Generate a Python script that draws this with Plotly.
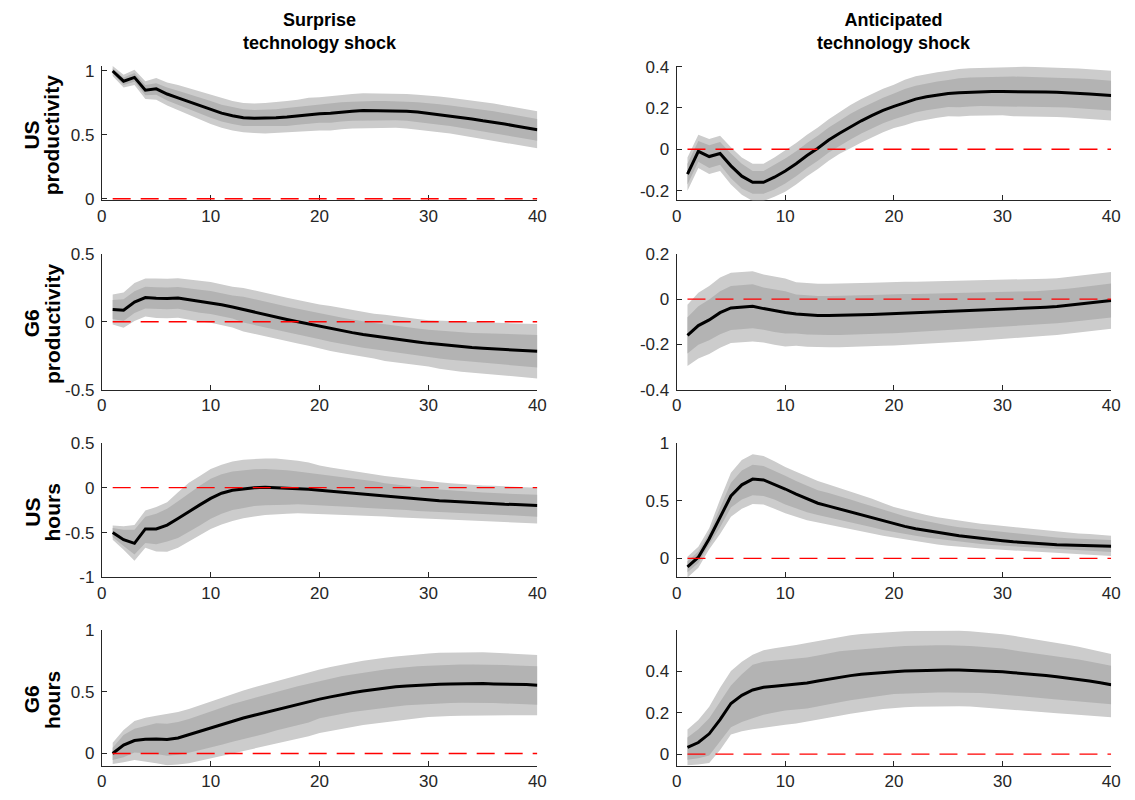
import plotly.graph_objects as go
from plotly.subplots import make_subplots

horizons = list(range(1, 41))
x_ticks = [0, 10, 20, 30, 40]
x_ticklabels = ["0", "10", "20", "30", "40"]

col_titles = ["<b>Surprise<br>technology shock</b>", "<b>Anticipated<br>technology shock</b>"]
row_titles_1 = ["<b>US</b>", "<b>G6</b>", "<b>US</b>", "<b>G6</b>"]
row_titles_2 = ["<b>productivity</b>", "<b>productivity</b>", "<b>hours</b>", "<b>hours</b>"]

# ---------- Panel 1: US productivity, surprise ----------
us_prod_sur_med = [1.00,0.92,0.95,0.85,0.86,0.82,0.79,0.76,0.73,0.70,0.67,0.65,0.635,0.63,0.63,0.635,0.64,0.65,0.66,0.665,0.67,0.68,0.685,0.69,0.69,0.69,0.69,0.685,0.68,0.67,0.66,0.65,0.64,0.625,0.61,0.60,0.585,0.57,0.555,0.54]
us_prod_sur_lo90 = [0.96,0.87,0.89,0.78,0.775,0.73,0.69,0.655,0.62,0.585,0.555,0.535,0.52,0.515,0.51,0.515,0.515,0.525,0.53,0.535,0.535,0.545,0.55,0.555,0.555,0.555,0.555,0.55,0.545,0.53,0.52,0.51,0.50,0.485,0.465,0.455,0.44,0.425,0.41,0.395]
us_prod_sur_lo68 = [0.98,0.89,0.915,0.81,0.815,0.77,0.735,0.70,0.67,0.635,0.605,0.585,0.57,0.565,0.565,0.57,0.57,0.58,0.59,0.595,0.595,0.605,0.61,0.615,0.615,0.615,0.615,0.61,0.605,0.59,0.58,0.57,0.56,0.545,0.525,0.515,0.50,0.485,0.47,0.455]
us_prod_sur_hi68 = [1.02,0.95,0.985,0.89,0.905,0.87,0.845,0.82,0.79,0.765,0.735,0.715,0.70,0.695,0.695,0.70,0.71,0.72,0.73,0.735,0.745,0.755,0.76,0.765,0.765,0.765,0.765,0.76,0.755,0.75,0.74,0.73,0.72,0.705,0.695,0.685,0.67,0.655,0.64,0.625]
us_prod_sur_hi90 = [1.04,0.97,1.01,0.92,0.945,0.91,0.89,0.865,0.84,0.815,0.785,0.765,0.75,0.745,0.75,0.755,0.765,0.775,0.79,0.795,0.805,0.815,0.82,0.825,0.825,0.825,0.825,0.82,0.815,0.81,0.80,0.79,0.78,0.765,0.755,0.745,0.73,0.715,0.70,0.685]

# ---------- Panel 2: US productivity, anticipated ----------
us_prod_ant_med = [-0.12,-0.01,-0.035,-0.02,-0.08,-0.13,-0.16,-0.16,-0.135,-0.105,-0.07,-0.03,0.005,0.045,0.078,0.11,0.138,0.164,0.188,0.208,0.227,0.243,0.254,0.263,0.27,0.274,0.277,0.279,0.28,0.28,0.28,0.279,0.278,0.277,0.276,0.274,0.271,0.268,0.264,0.26]
us_prod_ant_lo90 = [-0.20,-0.09,-0.12,-0.105,-0.17,-0.22,-0.25,-0.25,-0.23,-0.205,-0.17,-0.13,-0.095,-0.055,-0.022,0.005,0.033,0.059,0.083,0.103,0.117,0.133,0.144,0.153,0.16,0.159,0.162,0.164,0.165,0.165,0.16,0.159,0.158,0.157,0.156,0.154,0.151,0.148,0.144,0.14]
us_prod_ant_lo68 = [-0.17,-0.06,-0.09,-0.075,-0.14,-0.19,-0.215,-0.215,-0.195,-0.165,-0.13,-0.09,-0.055,-0.015,0.018,0.048,0.076,0.102,0.126,0.146,0.162,0.178,0.189,0.198,0.205,0.204,0.207,0.209,0.21,0.21,0.208,0.207,0.206,0.205,0.204,0.202,0.199,0.196,0.192,0.188]
us_prod_ant_hi68 = [-0.07,0.04,0.02,0.035,-0.02,-0.07,-0.105,-0.105,-0.075,-0.045,-0.01,0.03,0.065,0.105,0.138,0.172,0.20,0.226,0.25,0.27,0.292,0.308,0.319,0.328,0.335,0.344,0.347,0.349,0.35,0.35,0.352,0.351,0.35,0.349,0.348,0.346,0.343,0.34,0.336,0.332]
us_prod_ant_hi90 = [-0.04,0.07,0.05,0.065,0.01,-0.04,-0.07,-0.07,-0.04,-0.005,0.03,0.07,0.105,0.145,0.178,0.215,0.243,0.269,0.293,0.313,0.337,0.353,0.364,0.373,0.38,0.389,0.392,0.394,0.395,0.395,0.40,0.399,0.398,0.397,0.396,0.394,0.391,0.388,0.384,0.38]

# ---------- Panel 3: G6 productivity, surprise ----------
g6_prod_sur_med = [0.09,0.085,0.145,0.178,0.173,0.171,0.175,0.163,0.151,0.142,0.125,0.108,0.089,0.07,0.05,0.034,0.017,0.0,-0.017,-0.034,-0.05,-0.065,-0.08,-0.094,-0.106,-0.118,-0.13,-0.14,-0.149,-0.159,-0.168,-0.175,-0.183,-0.19,-0.195,-0.2,-0.204,-0.209,-0.212,-0.217]
g6_prod_sur_lo90 = [-0.02,-0.045,0.005,0.038,0.028,0.026,0.03,0.018,0.001,-0.008,-0.025,-0.042,-0.071,-0.09,-0.11,-0.126,-0.143,-0.16,-0.177,-0.194,-0.215,-0.23,-0.245,-0.259,-0.271,-0.288,-0.30,-0.31,-0.319,-0.329,-0.346,-0.356,-0.367,-0.377,-0.385,-0.392,-0.398,-0.405,-0.41,-0.417]
g6_prod_sur_lo68 = [0.02,0.005,0.065,0.098,0.093,0.091,0.095,0.083,0.066,0.057,0.04,0.023,-0.006,-0.025,-0.045,-0.061,-0.078,-0.095,-0.112,-0.129,-0.147,-0.162,-0.177,-0.191,-0.203,-0.218,-0.23,-0.24,-0.249,-0.259,-0.27,-0.279,-0.289,-0.298,-0.305,-0.312,-0.318,-0.325,-0.33,-0.337]
g6_prod_sur_hi68 = [0.16,0.165,0.225,0.258,0.253,0.251,0.255,0.243,0.236,0.227,0.21,0.193,0.184,0.165,0.145,0.129,0.112,0.095,0.078,0.061,0.047,0.032,0.017,0.003,-0.009,-0.018,-0.03,-0.04,-0.049,-0.059,-0.066,-0.071,-0.077,-0.082,-0.085,-0.088,-0.09,-0.093,-0.094,-0.097]
g6_prod_sur_hi90 = [0.20,0.215,0.285,0.318,0.318,0.316,0.32,0.308,0.301,0.292,0.275,0.258,0.249,0.23,0.21,0.194,0.177,0.16,0.143,0.126,0.115,0.10,0.085,0.071,0.059,0.052,0.04,0.03,0.021,0.011,0.01,0.006,0.001,-0.003,-0.005,-0.008,-0.01,-0.013,-0.014,-0.017]

# ---------- Panel 4: G6 productivity, anticipated ----------
g6_prod_ant_med = [-0.16,-0.117,-0.092,-0.06,-0.039,-0.035,-0.032,-0.042,-0.052,-0.059,-0.066,-0.07,-0.072,-0.072,-0.072,-0.07,-0.069,-0.068,-0.066,-0.065,-0.063,-0.062,-0.06,-0.058,-0.057,-0.055,-0.053,-0.051,-0.049,-0.047,-0.045,-0.042,-0.039,-0.036,-0.033,-0.028,-0.023,-0.018,-0.012,-0.006]
g6_prod_ant_lo90 = [-0.295,-0.262,-0.242,-0.215,-0.194,-0.19,-0.187,-0.192,-0.202,-0.209,-0.206,-0.21,-0.212,-0.212,-0.212,-0.21,-0.209,-0.208,-0.206,-0.205,-0.202,-0.2,-0.197,-0.194,-0.192,-0.189,-0.186,-0.183,-0.18,-0.177,-0.174,-0.17,-0.166,-0.162,-0.158,-0.153,-0.148,-0.143,-0.137,-0.131]
g6_prod_ant_lo68 = [-0.24,-0.202,-0.182,-0.155,-0.136,-0.132,-0.129,-0.135,-0.145,-0.152,-0.152,-0.156,-0.158,-0.158,-0.158,-0.156,-0.155,-0.154,-0.152,-0.151,-0.148,-0.146,-0.143,-0.14,-0.138,-0.135,-0.132,-0.129,-0.126,-0.124,-0.121,-0.117,-0.113,-0.11,-0.107,-0.102,-0.098,-0.093,-0.087,-0.081]
g6_prod_ant_hi68 = [-0.08,-0.032,-0.002,0.035,0.058,0.062,0.065,0.051,0.041,0.034,0.02,0.016,0.014,0.014,0.014,0.016,0.017,0.018,0.02,0.021,0.022,0.022,0.023,0.024,0.025,0.026,0.027,0.028,0.029,0.03,0.031,0.033,0.035,0.038,0.041,0.046,0.051,0.056,0.062,0.069]
g6_prod_ant_hi90 = [-0.025,0.028,0.058,0.095,0.116,0.12,0.123,0.108,0.098,0.091,0.074,0.07,0.068,0.068,0.068,0.07,0.071,0.072,0.074,0.075,0.076,0.076,0.077,0.078,0.078,0.079,0.08,0.081,0.082,0.083,0.084,0.086,0.088,0.09,0.092,0.097,0.102,0.107,0.113,0.119]

# ---------- Panel 5: US hours, surprise ----------
us_hours_sur_med = [-0.50,-0.58,-0.62,-0.46,-0.46,-0.417,-0.344,-0.264,-0.192,-0.12,-0.062,-0.029,-0.011,0.0,0.004,0.0,-0.004,-0.011,-0.018,-0.029,-0.04,-0.05,-0.062,-0.072,-0.083,-0.094,-0.105,-0.116,-0.127,-0.134,-0.145,-0.152,-0.16,-0.167,-0.174,-0.18,-0.185,-0.188,-0.192,-0.20]
us_hours_sur_lo90 = [-0.58,-0.69,-0.815,-0.67,-0.71,-0.714,-0.67,-0.60,-0.53,-0.46,-0.41,-0.37,-0.34,-0.32,-0.305,-0.295,-0.29,-0.285,-0.285,-0.29,-0.295,-0.30,-0.305,-0.31,-0.315,-0.32,-0.33,-0.335,-0.343,-0.35,-0.355,-0.36,-0.365,-0.37,-0.375,-0.38,-0.385,-0.39,-0.395,-0.40]
us_hours_sur_lo68 = [-0.55,-0.65,-0.745,-0.615,-0.63,-0.60,-0.56,-0.49,-0.42,-0.345,-0.29,-0.25,-0.225,-0.205,-0.195,-0.19,-0.19,-0.185,-0.19,-0.20,-0.205,-0.21,-0.215,-0.225,-0.23,-0.235,-0.245,-0.25,-0.26,-0.27,-0.275,-0.28,-0.285,-0.29,-0.295,-0.30,-0.305,-0.31,-0.315,-0.325]
us_hours_sur_hi68 = [-0.45,-0.47,-0.47,-0.325,-0.29,-0.236,-0.15,-0.06,0.02,0.10,0.15,0.18,0.195,0.205,0.207,0.205,0.195,0.18,0.165,0.145,0.13,0.115,0.10,0.085,0.07,0.05,0.035,0.02,0.005,-0.01,-0.02,-0.03,-0.04,-0.046,-0.053,-0.06,-0.065,-0.07,-0.075,-0.08]
us_hours_sur_hi90 = [-0.42,-0.43,-0.415,-0.255,-0.215,-0.163,-0.05,0.054,0.13,0.207,0.255,0.29,0.31,0.32,0.326,0.325,0.315,0.30,0.28,0.246,0.225,0.205,0.185,0.165,0.15,0.13,0.115,0.10,0.085,0.072,0.06,0.05,0.04,0.032,0.025,0.02,0.015,0.01,0.005,0.0]

# ---------- Panel 6: US hours, anticipated ----------
us_hours_ant_med = [-0.073,0.01,0.17,0.36,0.54,0.636,0.686,0.678,0.641,0.60,0.556,0.514,0.477,0.452,0.427,0.401,0.376,0.347,0.322,0.297,0.277,0.257,0.24,0.223,0.209,0.195,0.184,0.172,0.161,0.153,0.144,0.136,0.13,0.124,0.119,0.116,0.113,0.11,0.107,0.105]
us_hours_ant_lo90 = [-0.165,-0.08,0.08,0.21,0.36,0.43,0.47,0.465,0.43,0.39,0.36,0.33,0.31,0.29,0.275,0.255,0.235,0.215,0.195,0.175,0.16,0.145,0.135,0.12,0.11,0.10,0.095,0.085,0.08,0.075,0.065,0.06,0.055,0.05,0.045,0.04,0.035,0.03,0.025,0.02]
us_hours_ant_lo68 = [-0.12,-0.04,0.12,0.27,0.44,0.51,0.545,0.54,0.51,0.465,0.43,0.40,0.375,0.355,0.335,0.315,0.29,0.27,0.245,0.225,0.21,0.195,0.18,0.165,0.155,0.145,0.135,0.125,0.115,0.11,0.10,0.095,0.09,0.085,0.08,0.075,0.07,0.065,0.06,0.055]
us_hours_ant_hi68 = [-0.025,0.06,0.22,0.44,0.655,0.76,0.81,0.80,0.76,0.715,0.67,0.63,0.59,0.565,0.54,0.51,0.48,0.45,0.42,0.39,0.365,0.34,0.32,0.30,0.285,0.27,0.26,0.245,0.235,0.225,0.215,0.205,0.195,0.19,0.18,0.175,0.17,0.165,0.16,0.16]
us_hours_ant_hi90 = [0.015,0.10,0.26,0.51,0.74,0.85,0.90,0.885,0.84,0.79,0.75,0.71,0.67,0.64,0.61,0.58,0.55,0.515,0.48,0.445,0.42,0.395,0.375,0.355,0.34,0.325,0.31,0.30,0.29,0.28,0.27,0.26,0.25,0.24,0.23,0.225,0.215,0.21,0.20,0.195]

# ---------- Panel 7: G6 hours, surprise ----------
g6_hours_sur_med = [0.0,0.068,0.105,0.116,0.118,0.113,0.126,0.153,0.179,0.208,0.237,0.263,0.287,0.31,0.332,0.355,0.376,0.397,0.418,0.44,0.458,0.476,0.492,0.505,0.518,0.529,0.539,0.547,0.553,0.558,0.561,0.563,0.566,0.566,0.566,0.563,0.563,0.561,0.558,0.553]
g6_hours_sur_lo90 = [-0.085,-0.07,-0.053,-0.065,-0.08,-0.095,-0.09,-0.08,-0.065,-0.045,-0.025,-0.005,0.015,0.035,0.06,0.08,0.10,0.12,0.14,0.165,0.18,0.20,0.215,0.23,0.245,0.255,0.265,0.275,0.285,0.295,0.30,0.303,0.306,0.308,0.31,0.31,0.31,0.31,0.31,0.31]
g6_hours_sur_lo68 = [-0.053,-0.03,0.008,0.0,-0.005,-0.018,-0.01,0.005,0.025,0.047,0.07,0.095,0.12,0.14,0.16,0.185,0.205,0.23,0.25,0.285,0.30,0.32,0.335,0.35,0.36,0.37,0.38,0.39,0.395,0.40,0.405,0.408,0.41,0.41,0.41,0.408,0.405,0.403,0.40,0.395]
g6_hours_sur_hi68 = [0.047,0.15,0.20,0.225,0.245,0.24,0.255,0.28,0.31,0.342,0.37,0.40,0.425,0.45,0.475,0.50,0.52,0.545,0.565,0.587,0.605,0.625,0.64,0.655,0.67,0.68,0.69,0.70,0.705,0.71,0.715,0.717,0.72,0.72,0.72,0.717,0.715,0.712,0.708,0.705]
g6_hours_sur_hi90 = [0.087,0.19,0.263,0.29,0.305,0.318,0.335,0.36,0.39,0.42,0.455,0.485,0.51,0.535,0.56,0.585,0.61,0.635,0.655,0.68,0.70,0.72,0.735,0.75,0.765,0.775,0.785,0.795,0.80,0.81,0.815,0.817,0.82,0.82,0.82,0.815,0.81,0.806,0.80,0.797]

# ---------- Panel 8: G6 hours, anticipated ----------
g6_hours_ant_med = [0.033,0.056,0.098,0.166,0.244,0.283,0.309,0.322,0.327,0.331,0.336,0.342,0.352,0.361,0.37,0.378,0.384,0.389,0.394,0.397,0.40,0.402,0.403,0.405,0.405,0.405,0.403,0.402,0.40,0.397,0.392,0.388,0.383,0.378,0.372,0.366,0.359,0.352,0.344,0.334]
g6_hours_ant_lo90 = [-0.053,-0.05,-0.042,0.02,0.095,0.11,0.12,0.13,0.135,0.142,0.147,0.155,0.165,0.175,0.185,0.195,0.203,0.21,0.217,0.223,0.226,0.228,0.229,0.23,0.23,0.23,0.229,0.227,0.224,0.22,0.215,0.21,0.206,0.201,0.197,0.193,0.189,0.185,0.181,0.178]
g6_hours_ant_lo68 = [-0.027,-0.02,-0.006,0.06,0.13,0.155,0.173,0.19,0.20,0.21,0.215,0.22,0.23,0.24,0.25,0.26,0.268,0.275,0.282,0.29,0.293,0.295,0.296,0.297,0.297,0.297,0.296,0.294,0.291,0.287,0.282,0.277,0.273,0.268,0.263,0.258,0.253,0.249,0.244,0.24]
g6_hours_ant_hi68 = [0.08,0.12,0.173,0.25,0.33,0.385,0.43,0.445,0.45,0.455,0.46,0.465,0.475,0.485,0.495,0.50,0.505,0.51,0.514,0.517,0.52,0.522,0.523,0.524,0.524,0.523,0.52,0.517,0.513,0.508,0.50,0.493,0.486,0.479,0.472,0.464,0.455,0.446,0.436,0.425]
g6_hours_ant_hi90 = [0.119,0.165,0.228,0.32,0.40,0.445,0.478,0.50,0.51,0.517,0.525,0.535,0.545,0.555,0.565,0.572,0.578,0.582,0.585,0.588,0.591,0.593,0.594,0.595,0.595,0.594,0.592,0.588,0.583,0.577,0.57,0.562,0.554,0.545,0.536,0.527,0.517,0.506,0.495,0.482]

# y-axis ranges and ticks per panel (row, col)
y_ranges = {
    (1, 1): [-0.012, 1.042], (1, 2): [-0.247, 0.405],
    (2, 1): [-0.5, 0.5], (2, 2): [-0.4, 0.2],
    (3, 1): [-1, 0.5], (3, 2): [-0.165, 1.0],
    (4, 1): [-0.098, 1.0], (4, 2): [-0.055, 0.598],
}
y_tickvals = {
    (1, 1): [0, 0.5, 1], (1, 2): [-0.2, 0, 0.2, 0.4],
    (2, 1): [-0.5, 0, 0.5], (2, 2): [-0.4, -0.2, 0, 0.2],
    (3, 1): [-1, -0.5, 0, 0.5], (3, 2): [0, 0.5, 1],
    (4, 1): [0, 0.5, 1], (4, 2): [0, 0.2, 0.4],
}
y_ticktext = {
    (1, 1): ["0", "0.5", "1"], (1, 2): ["-0.2", "0", "0.2", "0.4"],
    (2, 1): ["-0.5", "0", "0.5"], (2, 2): ["-0.4", "-0.2", "0", "0.2"],
    (3, 1): ["-1", "-0.5", "0", "0.5"], (3, 2): ["0", "0.5", "1"],
    (4, 1): ["0", "0.5", "1"], (4, 2): ["0", "0.2", "0.4"],
}

panels = {
    (1, 1): (us_prod_sur_med, us_prod_sur_lo90, us_prod_sur_lo68, us_prod_sur_hi68, us_prod_sur_hi90),
    (1, 2): (us_prod_ant_med, us_prod_ant_lo90, us_prod_ant_lo68, us_prod_ant_hi68, us_prod_ant_hi90),
    (2, 1): (g6_prod_sur_med, g6_prod_sur_lo90, g6_prod_sur_lo68, g6_prod_sur_hi68, g6_prod_sur_hi90),
    (2, 2): (g6_prod_ant_med, g6_prod_ant_lo90, g6_prod_ant_lo68, g6_prod_ant_hi68, g6_prod_ant_hi90),
    (3, 1): (us_hours_sur_med, us_hours_sur_lo90, us_hours_sur_lo68, us_hours_sur_hi68, us_hours_sur_hi90),
    (3, 2): (us_hours_ant_med, us_hours_ant_lo90, us_hours_ant_lo68, us_hours_ant_hi68, us_hours_ant_hi90),
    (4, 1): (g6_hours_sur_med, g6_hours_sur_lo90, g6_hours_sur_lo68, g6_hours_sur_hi68, g6_hours_sur_hi90),
    (4, 2): (g6_hours_ant_med, g6_hours_ant_lo90, g6_hours_ant_lo68, g6_hours_ant_hi68, g6_hours_ant_hi90),
}
zero_line = [0.0] * len(horizons)

W, H = 1135, 800
col_px = {1: (98, 539), 2: (680, 1120)}
row_px = {1: (58, 196), 2: (250.7, 390), 3: (444.3, 582.3), 4: (636, 775)}

LIGHT = "#cccccc"
DARK = "#b3b3b3"
AXC = "#262626"
FONT = "Liberation Sans, Arial, Helvetica, sans-serif"

fig = make_subplots(rows=4, cols=2)

for (r, c), (med, lo90, lo68, hi68, hi90) in panels.items():
    for arr in (med, lo90, lo68, hi68, hi90):
        assert len(arr) == 40, (r, c, len(arr))
    xs = horizons + horizons[::-1]
    fig.add_trace(go.Scatter(x=xs, y=list(hi90) + list(lo90)[::-1], fill="toself",
                             fillcolor=LIGHT, line=dict(width=0), mode="lines",
                             hoverinfo="skip", showlegend=False), row=r, col=c)
    fig.add_trace(go.Scatter(x=xs, y=list(hi68) + list(lo68)[::-1], fill="toself",
                             fillcolor=DARK, line=dict(width=0), mode="lines",
                             hoverinfo="skip", showlegend=False), row=r, col=c)
    fig.add_trace(go.Scatter(x=horizons, y=med, mode="lines",
                             line=dict(color="black", width=3),
                             showlegend=False), row=r, col=c)
    fig.add_trace(go.Scatter(x=horizons, y=zero_line, mode="lines",
                             line=dict(color="#ff0000", width=1.4, dash="18px,10px"),
                             hoverinfo="skip", showlegend=False), row=r, col=c)

    x0, x1 = col_px[c]
    yt, yb = row_px[r]
    fig.update_xaxes(domain=[x0 / W, x1 / W], range=[0, 40], tickvals=x_ticks,
                     ticktext=x_ticklabels, row=r, col=c)
    fig.update_yaxes(domain=[1 - yb / H, 1 - yt / H], range=y_ranges[(r, c)],
                     tickvals=y_tickvals[(r, c)], ticktext=y_ticktext[(r, c)],
                     row=r, col=c)

fig.update_xaxes(showline=True, linecolor=AXC, linewidth=1, ticks="inside",
                 ticklen=5, tickcolor=AXC, tickwidth=1, showgrid=False,
                 zeroline=False, layer="below traces",
                 tickfont=dict(family=FONT, size=17, color=AXC))
fig.update_yaxes(showline=True, linecolor=AXC, linewidth=1, ticks="inside",
                 ticklen=5, tickcolor=AXC, tickwidth=1, showgrid=False,
                 zeroline=False, layer="below traces", ticklabelstandoff=3,
                 tickfont=dict(family=FONT, size=17, color=AXC))

annotations = []
for c, t in zip((1, 2), col_titles):
    x0, x1 = col_px[c]
    annotations.append(dict(text=t, x=(x0 + x1) / 2 / W, y=1 - 23.5 / H,
                            xref="paper", yref="paper", showarrow=False,
                            xanchor="center", yanchor="middle",
                            font=dict(family=FONT, size=18, color="black")))
for r, t1, t2 in zip((1, 2, 3, 4), row_titles_1, row_titles_2):
    yt, yb = row_px[r]
    yc = 1 - ((yt + yb) / 2 + 2) / H
    annotations.append(dict(text=t1, x=27 / W, y=yc,
                            xref="paper", yref="paper", showarrow=False,
                            xanchor="center", yanchor="middle", textangle=-90,
                            font=dict(family=FONT, size=21, color="black")))
    annotations.append(dict(text=t2, x=48 / W, y=yc,
                            xref="paper", yref="paper", showarrow=False,
                            xanchor="center", yanchor="middle", textangle=-90,
                            font=dict(family=FONT, size=21, color="black")))

fig.update_layout(width=W, height=H, margin=dict(l=0, r=0, t=0, b=0),
                  paper_bgcolor="white", plot_bgcolor="white",
                  annotations=annotations, showlegend=False)

fig.write_html("out.html")
